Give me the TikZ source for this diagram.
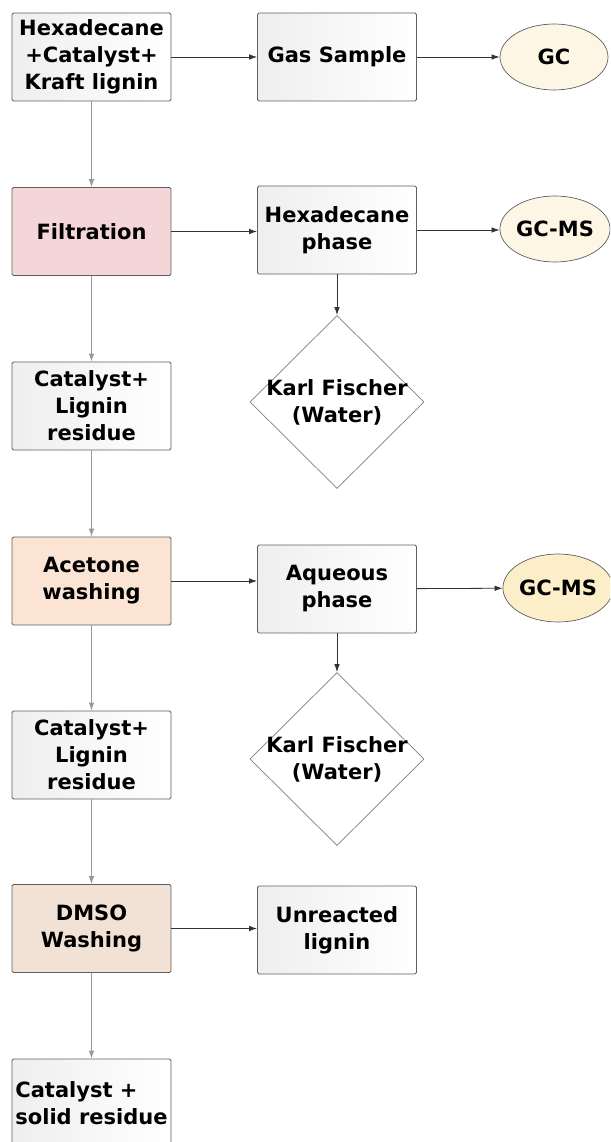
\documentclass[tikz,border=0pt]{standalone}
\usepackage{fontspec}
\setmainfont{DejaVu Sans}
\usetikzlibrary{shapes.geometric,arrows.meta}

\definecolor{filtpink}{RGB}{245,214,216}
\definecolor{acetpeach}{RGB}{252,228,212}
\definecolor{dmsotan}{RGB}{242,226,213}
\definecolor{gccream}{RGB}{253,246,228}
\definecolor{gcyellow}{RGB}{252,238,200}
\definecolor{edgegray}{RGB}{95,95,95}

\tikzset{
  stage/.style={draw=edgegray, line width=0.8pt, rounded corners=1.5pt,
    minimum width=159pt, minimum height=88pt, inner sep=1pt, align=center,
    font=\bfseries\fontsize{21}{27}\selectfont},
  plainbox/.style={stage, left color=gray!13, right color=white},
  analysis/.style={ellipse, draw=edgegray, line width=0.7pt, fill=gccream,
    minimum width=108pt, minimum height=66pt, inner sep=0pt,
    font=\bfseries\fontsize{21}{27}\selectfont},
  kf/.style={diamond, draw=gray, line width=0.7pt, fill=white, aspect=1,
    minimum width=174pt, minimum height=172pt, inner sep=-3.5pt, align=center,
    font=\bfseries\fontsize{21}{27}\selectfont},
  down/.style={draw=gray!80, line width=0.8pt, -{Latex[length=8pt,width=5.5pt]}},
  across/.style={draw=black!80, line width=0.8pt, -{Latex[length=8pt,width=5.5pt]}}
}

\begin{document}
\begin{tikzpicture}[x=1pt,y=-1pt]
  \useasboundingbox (0,0) rectangle (610,1142);
  \clip (0,0) rectangle (610,1142);

  % left column
  \node[plainbox] (feed) at (91.5,57) {Hexadecane\\+Catalyst+\\Kraft lignin};
  \node[stage,fill=filtpink] (filt) at (91.5,231.5) {Filtration};
  \node[plainbox] (res1) at (91.5,406) {Catalyst+\\Lignin\\residue};
  \node[stage,fill=acetpeach] (acet) at (91.5,581) {Acetone\\washing};
  \node[plainbox] (res2) at (91.5,755) {Catalyst+\\Lignin\\residue};
  \node[stage,fill=dmsotan] (dmso) at (91.5,928.5) {DMSO\\Washing};
  \node[plainbox,align=left] (solid) at (91.5,1103) {Catalyst +\\solid residue};

  % middle column
  \node[plainbox] (gas) at (337,57) {Gas Sample};
  \node[plainbox] (hexph) at (337,230) {Hexadecane\\phase};
  \node[kf] (kf1) at (337,402) {Karl Fischer\\(Water)};
  \node[plainbox] (aqph) at (337,589) {Aqueous\\phase};
  \node[kf] (kf2) at (337,759) {Karl Fischer\\(Water)};
  \node[plainbox] (unreact) at (337,930) {Unreacted\\lignin};

  % right column
  \node[analysis] (gc) at (554,57) {GC};
  \node[analysis] (gcms1) at (555,229) {GC-MS};
  \node[analysis,fill=gcyellow,minimum width=104pt,minimum height=68pt] (gcms2) at (558,588) {GC-MS};

  % connectors
  \draw[down] (feed) -- (filt);
  \draw[down] (filt) -- (res1);
  \draw[down] (res1) -- (acet);
  \draw[down] (acet) -- (res2);
  \draw[down] (res2) -- (dmso);
  \draw[down] (dmso) -- (solid);
  \draw[down,draw=black!80] (hexph) -- (kf1);
  \draw[down,draw=black!80] (aqph) -- (kf2);

  \draw[across] (feed) -- (gas);
  \draw[across] (gas) -- (gc);
  \draw[across] (filt.east) -- (filt.east -| hexph.west);
  \draw[across] (hexph.east) -- (hexph.east -| gcms1.west);
  \draw[across] (acet.east) -- (acet.east -| aqph.west);
  \draw[across] (aqph) -- (gcms2);
  \draw[across] (dmso.east) -- (dmso.east -| unreact.west);
\end{tikzpicture}
\end{document}
